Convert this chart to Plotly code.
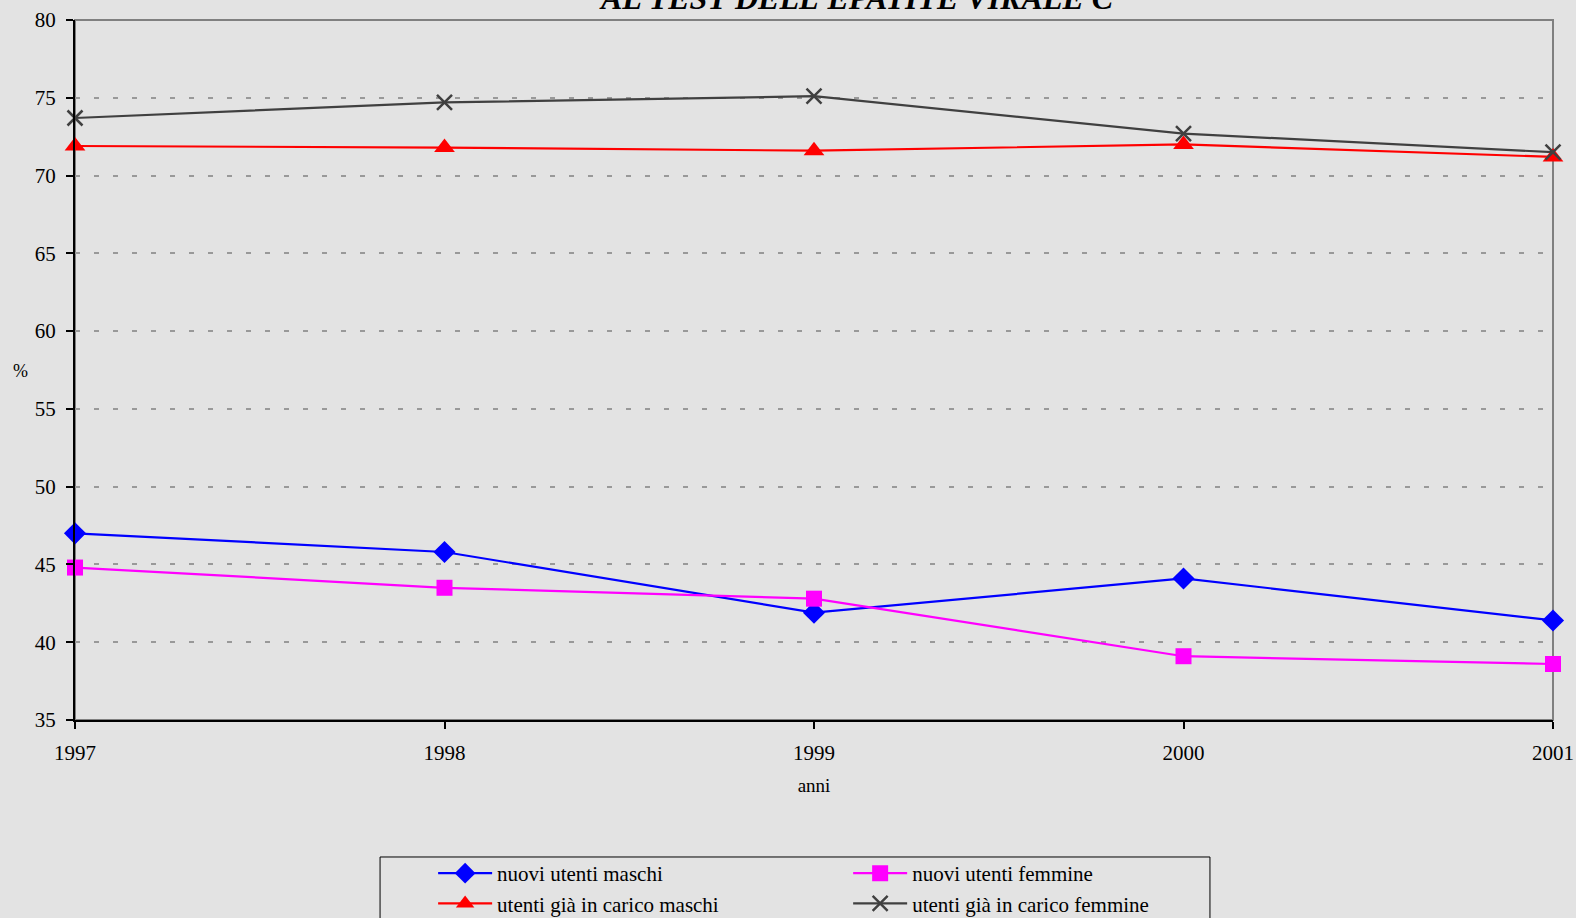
import plotly.graph_objects as go

years = [1997, 1998, 1999, 2000, 2001]
nuovi_maschi = [47.0, 45.8, 41.9, 44.1, 41.4]
nuovi_femmine = [44.8, 43.5, 42.8, 39.1, 38.6]
carico_maschi = [71.9, 71.8, 71.6, 72.0, 71.2]
carico_femmine = [73.7, 74.7, 75.1, 72.7, 71.5]

names = ["nuovi utenti maschi", "nuovi utenti femmine",
         "utenti già in carico maschi", "utenti già in carico femmine"]
title_text = "AL TEST DELL'EPATITE VIRALE C"

FONT = "Liberation Serif, Times New Roman, serif"
BG = "#e3e3e3"

fig = go.Figure()
series = [
    (nuovi_maschi, names[0], "#0000ff", "diamond", 17, "legend"),
    (nuovi_femmine, names[1], "#ff00ff", "square", 16, "legend2"),
    (carico_maschi, names[2], "#ff0000", "triangle-up", 18, "legend"),
    (carico_femmine, names[3], "#404040", "x-thin", 15, "legend2"),
]
for vals, name, color, sym, size, leg in series:
    marker = dict(symbol=sym, size=size, color=color)
    if sym == "x-thin":
        marker["line"] = dict(color=color, width=2.5)
    fig.add_trace(go.Scatter(
        x=years, y=vals, name=name, mode="lines+markers", legend=leg,
        line=dict(color=color, width=2.2), marker=marker, cliponaxis=False,
    ))

leg_common = dict(
    orientation="v", yanchor="top", xanchor="left", y=-0.1900,
    bgcolor="rgba(0,0,0,0)", borderwidth=0, itemwidth=54,
    font=dict(family=FONT, size=21, color="#000"), traceorder="normal",
)

fig.update_layout(
    width=1576, height=918,
    margin=dict(l=75, r=23, t=20, b=198, autoexpand=False),
    paper_bgcolor=BG, plot_bgcolor=BG,
    font=dict(family=FONT, size=21, color="#000"),
    showlegend=True,
    legend=dict(x=0.2423, **leg_common),
    legend2=dict(x=0.5231, **leg_common),
    shapes=[
        dict(type="rect", xref="paper", yref="paper", x0=0, x1=1, y0=0, y1=1,
             line=dict(color="#808080", width=2), layer="between"),
        dict(type="rect", xref="paper", yref="paper", x0=0.2064, x1=0.7679,
             y0=-0.1957, y1=-0.40, line=dict(color="#000", width=1),
             fillcolor="rgba(0,0,0,0)", layer="above"),
    ],
    annotations=[
        dict(text="<b><i>" + title_text + "</i></b>", xref="paper", yref="paper",
             x=0.529, y=1.003, xanchor="center", yanchor="bottom", showarrow=False,
             font=dict(family=FONT, size=32, color="#000")),
        dict(text="%", xref="paper", yref="paper", x=-0.0372, y=0.4986,
             xanchor="center", yanchor="middle", showarrow=False,
             font=dict(family=FONT, size=18, color="#000")),
    ],
)
fig.update_xaxes(
    range=[1997, 2001], tickvals=years, ticktext=[str(y) for y in years],
    showgrid=False, zeroline=False,
    showline=True, linecolor="#000", linewidth=2,
    ticks="outside", ticklen=7, tickcolor="#000", tickwidth=1.5,
    ticklabelstandoff=6,
    title=dict(text="anni", standoff=14, font=dict(family=FONT, size=19)),
)
fig.update_yaxes(
    range=[35, 80], dtick=5, tick0=35,
    showgrid=True, gridcolor="#999999", griddash="5px,14px", gridwidth=1.5,
    zeroline=False,
    showline=True, linecolor="#000", linewidth=2,
    ticks="outside", ticklen=7, tickcolor="#000", tickwidth=1.5,
    ticklabelstandoff=6,
)

fig.write_html("out.html", config={"displayModeBar": False},
               post_script="document.body.style.margin='0';")
